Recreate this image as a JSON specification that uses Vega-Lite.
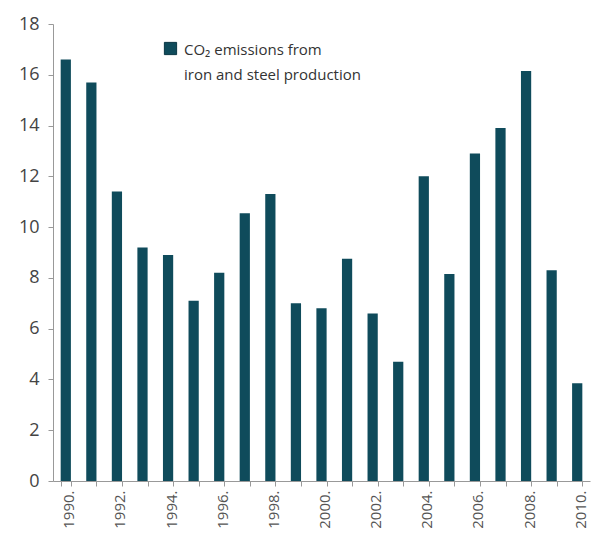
{
  "$schema": "https://vega.github.io/schema/vega-lite/v6.json",
  "autosize": {"type": "none"},
  "padding": {"left": 53, "top": 24, "right": 2, "bottom": 57},
  "width": 537,
  "height": 457,
  "background": "white",
  "config": {"view": {"stroke": null}, "font": "Open Sans"},
  "data": {"values": [
    {"year": "1990", "value": 16.6, "series": "CO2"},
    {"year": "1991", "value": 15.7, "series": "CO2"},
    {"year": "1992", "value": 11.4, "series": "CO2"},
    {"year": "1993", "value": 9.2, "series": "CO2"},
    {"year": "1994", "value": 8.9, "series": "CO2"},
    {"year": "1995", "value": 7.1, "series": "CO2"},
    {"year": "1996", "value": 8.2, "series": "CO2"},
    {"year": "1997", "value": 10.55, "series": "CO2"},
    {"year": "1998", "value": 11.3, "series": "CO2"},
    {"year": "1999", "value": 7.0, "series": "CO2"},
    {"year": "2000", "value": 6.8, "series": "CO2"},
    {"year": "2001", "value": 8.75, "series": "CO2"},
    {"year": "2002", "value": 6.6, "series": "CO2"},
    {"year": "2003", "value": 4.7, "series": "CO2"},
    {"year": "2004", "value": 12.0, "series": "CO2"},
    {"year": "2005", "value": 8.15, "series": "CO2"},
    {"year": "2006", "value": 12.9, "series": "CO2"},
    {"year": "2007", "value": 13.9, "series": "CO2"},
    {"year": "2008", "value": 16.15, "series": "CO2"},
    {"year": "2009", "value": 8.3, "series": "CO2"},
    {"year": "2010", "value": 3.85, "series": "CO2"}
  ]},
  "mark": {"type": "bar"},
  "encoding": {
    "x": {
      "field": "year", "type": "ordinal",
      "scale": {"paddingInner": 0.6, "paddingOuter": 0.3},
      "axis": {
        "title": null,
        "tickBand": "extent",
        "labelAngle": -90,
        "labelAlign": "right",
        "labelBaseline": "middle",
        "labelExpr": "isString(datum.value) && toNumber(datum.value) % 2 == 0 ? datum.value + '.' : ''",
        "labelFontSize": 15,
        "labelColor": "#555555",
        "labelPadding": 4,
        "labelOffset": 3,
        "domainColor": "#999999",
        "tickColor": "#999999",
        "tickSize": 5,
        "grid": false
      }
    },
    "y": {
      "field": "value", "type": "quantitative",
      "scale": {"domain": [0, 18], "nice": false},
      "axis": {
        "title": null,
        "values": [0, 2, 4, 6, 8, 10, 12, 14, 16, 18],
        "grid": false,
        "labelFontSize": 18,
        "labelColor": "#444444",
        "labelPadding": 9,
        "domainColor": "#999999",
        "tickColor": "#999999",
        "tickSize": 5
      }
    },
    "color": {
      "field": "series", "type": "nominal",
      "scale": {"range": ["#0f4b5b"]},
      "legend": {
        "orient": "none",
        "legendX": 110,
        "legendY": 17,
        "title": null,
        "symbolType": "square",
        "symbolSize": 150,
        "symbolStrokeColor": "#0a3644",
        "symbolStrokeWidth": 1,
        "labelExpr": "['CO₂ emissions from', 'iron and steel production']",
        "labelFontSize": 15,
        "labelLimit": 400,
        "labelColor": "#333333",
        "labelBaseline": "top",
        "labelOffset": 6,
        "encode": {"labels": {"update": {"lineHeight": {"value": 25}, "dy": {"value": -6}}}}
      }
    }
  }
}
